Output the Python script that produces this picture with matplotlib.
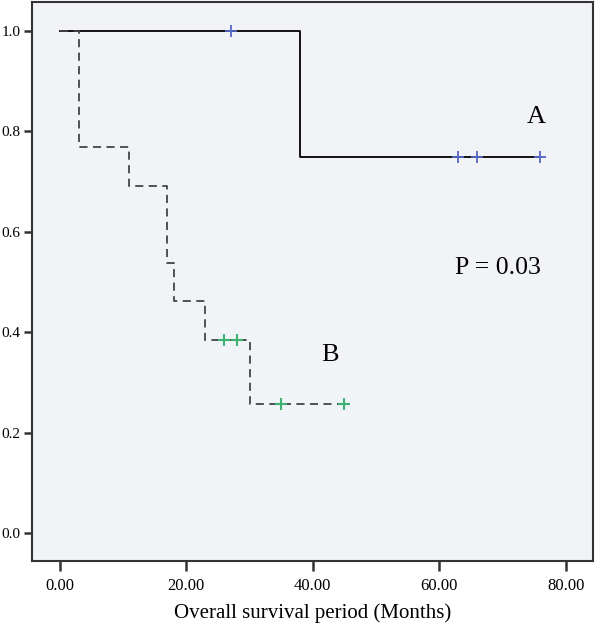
import matplotlib.pyplot as plt

# Kaplan-Meier steps, group A (solid)
a_time = [0, 38, 76]
a_surv = [1.0, 0.75, 0.75]
a_cens_time = [27, 63, 66, 76]
a_cens_surv = [1.0, 0.75, 0.75, 0.75]

# group B (dashed)
b_time = [0, 3, 11, 17, 18, 23, 30, 45]
b_surv = [1.0, 0.769, 0.692, 0.538, 0.462, 0.385, 0.256, 0.256]
b_cens_time = [26, 28, 35, 45]
b_cens_surv = [0.385, 0.385, 0.256, 0.256]

x_ticks = [0, 20, 40, 60, 80]
x_tick_labels = ["0.00", "20.00", "40.00", "60.00", "80.00"]
y_ticks = [0.0, 0.2, 0.4, 0.6, 0.8, 1.0]
y_tick_labels = ["0.0", "0.2", "0.4", "0.6", "0.8", "1.0"]

plt.rcParams['font.family'] = ['Liberation Serif', 'DejaVu Serif']

fig = plt.figure(figsize=(6, 6.3), dpi=100)
ax = fig.add_axes([0.0533, 0.1095, 0.935, 0.8873])
ax.set_facecolor("#f1f3f7")

# survival curves
ax.plot(a_time, a_surv, drawstyle="steps-post", color="black", lw=1.3)
ax.plot(b_time, b_surv, drawstyle="steps-post", color="#444444", lw=1.3,
        linestyle=(0, (4.5, 3)))

# censored marks
ax.plot(a_cens_time, a_cens_surv, linestyle="none", marker="+", ms=9, mew=1.3,
        color="#5566c4")
ax.plot(b_cens_time, b_cens_surv, linestyle="none", marker="+", ms=9, mew=1.5,
        color="#3cb371")

# annotations
ax.text(75.4, 0.829, "A", fontsize=19, ha="center", va="center")
ax.text(42.7, 0.355, "B", fontsize=19, ha="center", va="center")
ax.text(69.2, 0.528, "P = 0.03", fontsize=18.5, ha="center", va="center")

ax.set_xlim(-4.4, 84.3)
ax.set_ylim(-0.056, 1.058)
ax.set_xticks(x_ticks)
ax.set_xticklabels(x_tick_labels, fontsize=12)
ax.set_yticks(y_ticks)
ax.set_yticklabels(y_tick_labels, fontsize=11)
ax.tick_params(axis="both", direction="out", length=7, width=1.8, color="#333333")
ax.tick_params(axis="x", pad=5)
ax.tick_params(axis="y", length=6, pad=2)

for side in ax.spines.values():
    side.set_color("#333333")
    side.set_linewidth(1.5)

ax.set_xlabel("Overall survival period (Months)", fontsize=15, labelpad=7)

plt.savefig("out.png", dpi=100)
